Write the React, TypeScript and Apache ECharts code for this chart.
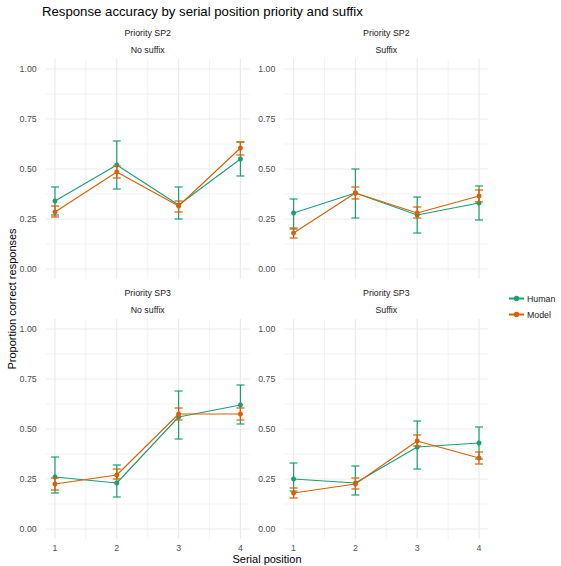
import React, { useEffect, useRef } from "react";
import * as echarts from "echarts";

// ---- Data ----
const positions = [1, 2, 3, 4];
const panelPriority = ["Priority SP2", "Priority SP2", "Priority SP3", "Priority SP3"];
const panelSuffix = ["No suffix", "Suffix", "No suffix", "Suffix"];

// Priority SP2, No suffix
const sp2NoHumanMean = [0.34, 0.52, 0.32, 0.55];
const sp2NoHumanLow = [0.27, 0.4, 0.25, 0.465];
const sp2NoHumanHigh = [0.41, 0.64, 0.41, 0.635];
const sp2NoModelMean = [0.285, 0.485, 0.315, 0.605];
const sp2NoModelLow = [0.26, 0.455, 0.285, 0.57];
const sp2NoModelHigh = [0.315, 0.515, 0.34, 0.635];

// Priority SP2, Suffix
const sp2SufHumanMean = [0.28, 0.38, 0.27, 0.33];
const sp2SufHumanLow = [0.2, 0.255, 0.18, 0.245];
const sp2SufHumanHigh = [0.35, 0.5, 0.36, 0.415];
const sp2SufModelMean = [0.18, 0.38, 0.28, 0.365];
const sp2SufModelLow = [0.155, 0.35, 0.255, 0.335];
const sp2SufModelHigh = [0.205, 0.41, 0.31, 0.395];

// Priority SP3, No suffix
const sp3NoHumanMean = [0.26, 0.23, 0.56, 0.62];
const sp3NoHumanLow = [0.18, 0.16, 0.45, 0.525];
const sp3NoHumanHigh = [0.36, 0.32, 0.69, 0.72];
const sp3NoModelMean = [0.225, 0.27, 0.575, 0.575];
const sp3NoModelLow = [0.195, 0.25, 0.545, 0.545];
const sp3NoModelHigh = [0.255, 0.3, 0.605, 0.605];

// Priority SP3, Suffix
const sp3SufHumanMean = [0.25, 0.23, 0.41, 0.43];
const sp3SufHumanLow = [0.19, 0.17, 0.3, 0.35];
const sp3SufHumanHigh = [0.33, 0.315, 0.54, 0.51];
const sp3SufModelMean = [0.18, 0.225, 0.44, 0.355];
const sp3SufModelLow = [0.155, 0.2, 0.415, 0.325];
const sp3SufModelHigh = [0.205, 0.255, 0.47, 0.385];

const yTicks = [0, 0.25, 0.5, 0.75, 1];
const yMinor = [0.125, 0.375, 0.625, 0.875];
const xMinor = [1.5, 2.5, 3.5];

const groups = ["Human", "Model"];

const panelData = [
  { human: [sp2NoHumanMean, sp2NoHumanLow, sp2NoHumanHigh], model: [sp2NoModelMean, sp2NoModelLow, sp2NoModelHigh] },
  { human: [sp2SufHumanMean, sp2SufHumanLow, sp2SufHumanHigh], model: [sp2SufModelMean, sp2SufModelLow, sp2SufModelHigh] },
  { human: [sp3NoHumanMean, sp3NoHumanLow, sp3NoHumanHigh], model: [sp3NoModelMean, sp3NoModelLow, sp3NoModelHigh] },
  { human: [sp3SufHumanMean, sp3SufHumanLow, sp3SufHumanHigh], model: [sp3SufModelMean, sp3SufModelLow, sp3SufModelHigh] },
];

// ---- Styles / layout ----
const FONT = "Liberation Sans, Arial, sans-serif";
const COLORS: Record<string, string> = { Human: "#1B9E77", Model: "#D95F02" };
const GRID_COLOR = "#EBEBEB";
const gridBoxes = [
  { left: 45.7, top: 59, width: 204, height: 220 },
  { left: 284.3, top: 59, width: 204, height: 220 },
  { left: 45.7, top: 319, width: 204, height: 220 },
  { left: 284.3, top: 319, width: 204, height: 220 },
];

function gridLineSeries(i: number, values: number[], dir: "x" | "y", width: number) {
  return {
    type: "custom",
    xAxisIndex: i,
    yAxisIndex: i,
    silent: true,
    z: 0,
    data: values.map((v) => (dir === "x" ? [v, 0.5] : [2, v])),
    renderItem: (params: any, api: any) => {
      const cs = params.coordSys;
      const p = api.coord([api.value(0), api.value(1)]);
      if (dir === "x") {
        return {
          type: "line",
          shape: { x1: p[0], y1: cs.y, x2: p[0], y2: cs.y + cs.height },
          style: { stroke: GRID_COLOR, lineWidth: width },
        };
      }
      return {
        type: "line",
        shape: { x1: cs.x, y1: p[1], x2: cs.x + cs.width, y2: p[1] },
        style: { stroke: GRID_COLOR, lineWidth: width },
      };
    },
  };
}

function errorBarSeries(i: number, color: string, low: number[], high: number[], z: number) {
  return {
    type: "custom",
    xAxisIndex: i,
    yAxisIndex: i,
    silent: true,
    z,
    encode: { x: 0, y: [1, 2] },
    data: positions.map((p, k) => [p, low[k], high[k]]),
    renderItem: (params: any, api: any) => {
      const x = api.value(0);
      const lo = api.coord([x, api.value(1)]);
      const hi = api.coord([x, api.value(2)]);
      const w = 4;
      const style = { stroke: color, lineWidth: 1.2 };
      return {
        type: "group",
        children: [
          { type: "line", shape: { x1: lo[0], y1: lo[1], x2: hi[0], y2: hi[1] }, style },
          { type: "line", shape: { x1: hi[0] - w, y1: hi[1], x2: hi[0] + w, y2: hi[1] }, style },
          { type: "line", shape: { x1: lo[0] - w, y1: lo[1], x2: lo[0] + w, y2: lo[1] }, style },
        ],
      };
    },
  };
}

export default function App() {
  const ref = useRef<HTMLDivElement>(null);

  useEffect(() => {
    document.body.style.margin = "0";
    if (!ref.current) return;
    const chart = echarts.init(ref.current, undefined, { renderer: "svg" });

    const grid = gridBoxes.map((b) => ({ ...b, containLabel: false }));
    const xAxis = gridBoxes.map((_, i) => ({
      type: "value",
      gridIndex: i,
      min: 0.85,
      max: 4.15,
      axisLine: { show: false },
      axisTick: { show: false },
      splitLine: { show: false },
      axisLabel: {
        show: i >= 2,
        customValues: positions,
        fontSize: 8.8,
        color: "#4D4D4D",
        fontFamily: FONT,
        margin: 4,
      },
    }));
    const yAxis = gridBoxes.map((_, i) => ({
      type: "value",
      gridIndex: i,
      min: -0.05,
      max: 1.05,
      axisLine: { show: false },
      axisTick: { show: false },
      splitLine: { show: false },
      axisLabel: {
        customValues: yTicks,
        formatter: (v: number) => v.toFixed(2),
        fontSize: 8.8,
        color: "#4D4D4D",
        fontFamily: FONT,
        margin: 9,
      },
    }));

    const series: any[] = [];
    gridBoxes.forEach((_, i) => {
      series.push(gridLineSeries(i, yMinor, "y", 0.6));
      series.push(gridLineSeries(i, xMinor, "x", 0.6));
      series.push(gridLineSeries(i, yTicks, "y", 1.2));
      series.push(gridLineSeries(i, positions, "x", 1.2));
      const pd = panelData[i];
      groups.forEach((g, gi) => {
        const arr = g === "Human" ? pd.human : pd.model;
        series.push({
          type: "line",
          name: g,
          xAxisIndex: i,
          yAxisIndex: i,
          z: 3 + gi,
          data: positions.map((p, k) => [p, arr[0][k]]),
          symbol: "circle",
          symbolSize: 5,
          showSymbol: true,
          lineStyle: { color: COLORS[g], width: 1.1 },
          itemStyle: { color: COLORS[g] },
          silent: true,
        });
        series.push(errorBarSeries(i, COLORS[g], arr[1], arr[2], 3 + gi));
      });
    });

    const graphics: any[] = [
      {
        type: "text",
        left: 42,
        top: 5,
        style: {
          text: "Response accuracy by serial position priority and suffix",
          fontSize: 13.2,
          fontFamily: FONT,
          fill: "#000",
        },
      },
      {
        type: "text",
        x: 12,
        y: 299,
        rotation: Math.PI / 2,
        style: {
          text: "Proportion correct responses",
          fontSize: 11,
          fontFamily: FONT,
          fill: "#000",
          align: "center",
          verticalAlign: "middle",
        },
      },
      {
        type: "text",
        x: 267,
        y: 559,
        style: {
          text: "Serial position",
          fontSize: 11,
          fontFamily: FONT,
          fill: "#000",
          align: "center",
          verticalAlign: "middle",
        },
      },
    ];
    gridBoxes.forEach((b, i) => {
      const cx = b.left + b.width / 2;
      const y0 = i < 2 ? 33 : 293;
      graphics.push({
        type: "text",
        x: cx,
        y: y0,
        style: { text: panelPriority[i], fontSize: 8.8, fontFamily: FONT, fill: "#1A1A1A", align: "center", verticalAlign: "middle" },
      });
      graphics.push({
        type: "text",
        x: cx,
        y: y0 + 17,
        style: { text: panelSuffix[i], fontSize: 8.8, fontFamily: FONT, fill: "#1A1A1A", align: "center", verticalAlign: "middle" },
      });
    });

    chart.setOption({
      animation: false,
      backgroundColor: "#fff",
      grid,
      xAxis,
      yAxis,
      series,
      graphic: graphics,
      legend: {
        data: groups,
        orient: "vertical",
        left: 508,
        top: 294,
        itemWidth: 15,
        itemHeight: 7,
        itemGap: 7,
        padding: 0,
        selectedMode: false,
        textStyle: { fontSize: 8.8, color: "#1A1A1A", fontFamily: FONT, padding: [0, 0, 0, -2] },
      },
    });

    return () => chart.dispose();
  }, []);

  return <div ref={ref} style={{ width: 561, height: 566 }} />;
}
